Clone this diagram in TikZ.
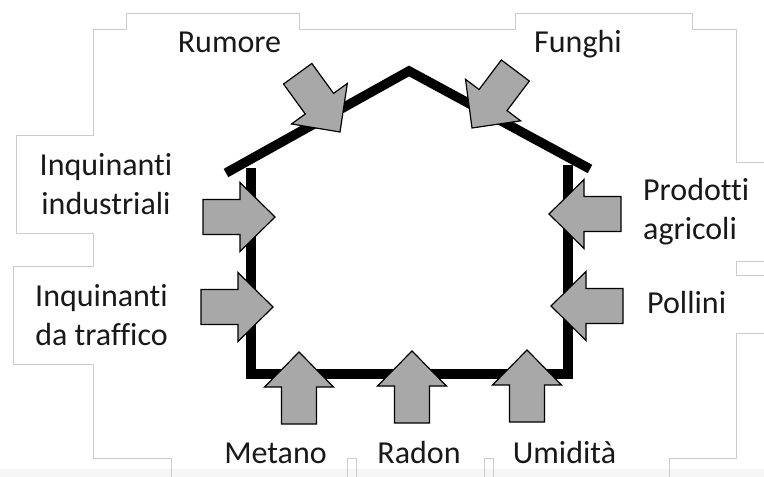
\documentclass[tikz,border=0pt]{standalone}
\usepackage{fontspec}
\setmainfont{Carlito}[Ligatures={NoCommon}]
\definecolor{arrowgrey}{gray}{0.66}
\definecolor{framegrey}{gray}{0.8}
\definecolor{bandgrey}{gray}{0.965}
\tikzset{
  wall/.style={line width=9.5pt, line join=miter, line cap=butt, draw=black},
  arrowbody/.style={draw=black, line width=1.2pt, fill=arrowgrey, line join=miter},
  frameline/.style={draw=framegrey, line width=1pt},
  label/.style={font=\fontsize{32}{38.5}\selectfont, inner sep=0pt, text=black!90},
  blockarrow/.pic={
    \path[arrowbody] (0,0) -- (-35,34.5) -- (-35,17.5) -- (-72,17.5)
      -- (-72,-17.5) -- (-35,-17.5) -- (-35,-34.5) -- cycle;
  }
}
\begin{document}
\begin{tikzpicture}[x=1pt, y=-1pt]
\useasboundingbox (0,0) rectangle (764,477);
\fill[white] (0,0) rectangle (764,477);
\fill[bandgrey] (0,469) rectangle (764,477);

% outlines of the surrounding page boxes
\draw[frameline] (171,477) -- (171,458) -- (93,458) -- (93,364) -- (13,364)
  -- (13,266) -- (93,266) -- (93,233) -- (16,233) -- (16,135) -- (93,135)
  -- (93,29) -- (126,29) -- (126,13) -- (299,13) -- (299,29) -- (515,29)
  -- (515,13) -- (692,13) -- (692,29) -- (736,29) -- (736,162) -- (764,162);
\draw[frameline] (764,261) -- (736,261) -- (736,275) -- (764,275);
\draw[frameline] (764,333) -- (736,333) -- (736,458) -- (669,458) -- (669,477);
\draw[frameline] (347,477) -- (347,458) -- (356,458) -- (356,477);
\draw[frameline] (484,477) -- (484,458) -- (493,458) -- (493,477);

% the house
\coordinate (roofL) at (226,173);
\coordinate (apex) at (409,71);
\coordinate (roofR) at (590,169);
\coordinate (wallLtop) at (251,168);
\coordinate (floorL) at (251,374);
\coordinate (floorR) at (568,374);
\coordinate (wallRtop) at (568,165);
\draw[wall] (roofL) -- (apex) -- (roofR);
\draw[wall] (wallLtop) -- (floorL) -- (floorR) -- (wallRtop);

% incoming agents
\pic (aRumore) [rotate=-54] at (340,132) {blockarrow};
\pic (aFunghi) [rotate=-127] at (472,128) {blockarrow};
\pic (aIndustria) at (275,217) {blockarrow};
\pic (aTraffico) at (273,307) {blockarrow};
\pic (aAgricoli) [rotate=180] at (549,214) {blockarrow};
\pic (aPollini) [rotate=180] at (551,306) {blockarrow};
\pic (aMetano) [rotate=90] at (299,352) {blockarrow};
\pic (aRadon) [rotate=90] at (412,351) {blockarrow};
\pic (aUmidita) [rotate=90] at (527,350) {blockarrow};

% labels (two-line labels are placed by the baseline of their last line)
\node[label, anchor=base] (lRumore) at (229.5,52) {Rumore};
\node[label, anchor=base] (lFunghi) at (578,52) {Funghi};
\node[label, anchor=base, align=center] (lIndustria) at (106,214) {Inquinanti\\industriali};
\node[label, anchor=base, align=center] (lTraffico) at (101.5,345) {Inquinanti\\da traffico};
\node[label, anchor=base west, align=left] (lAgricoli) at (643,239) {Prodotti\\agricoli};
\node[label, anchor=base west] (lPollini) at (647,313) {Pollini};
\node[label, anchor=base] (lMetano) at (275.5,463) {Metano};
\node[label, anchor=base] (lRadon) at (419,463) {Radon};
\node[label, anchor=base] (lUmidita) at (564.5,463) {Umidità};
\end{tikzpicture}
\end{document}
